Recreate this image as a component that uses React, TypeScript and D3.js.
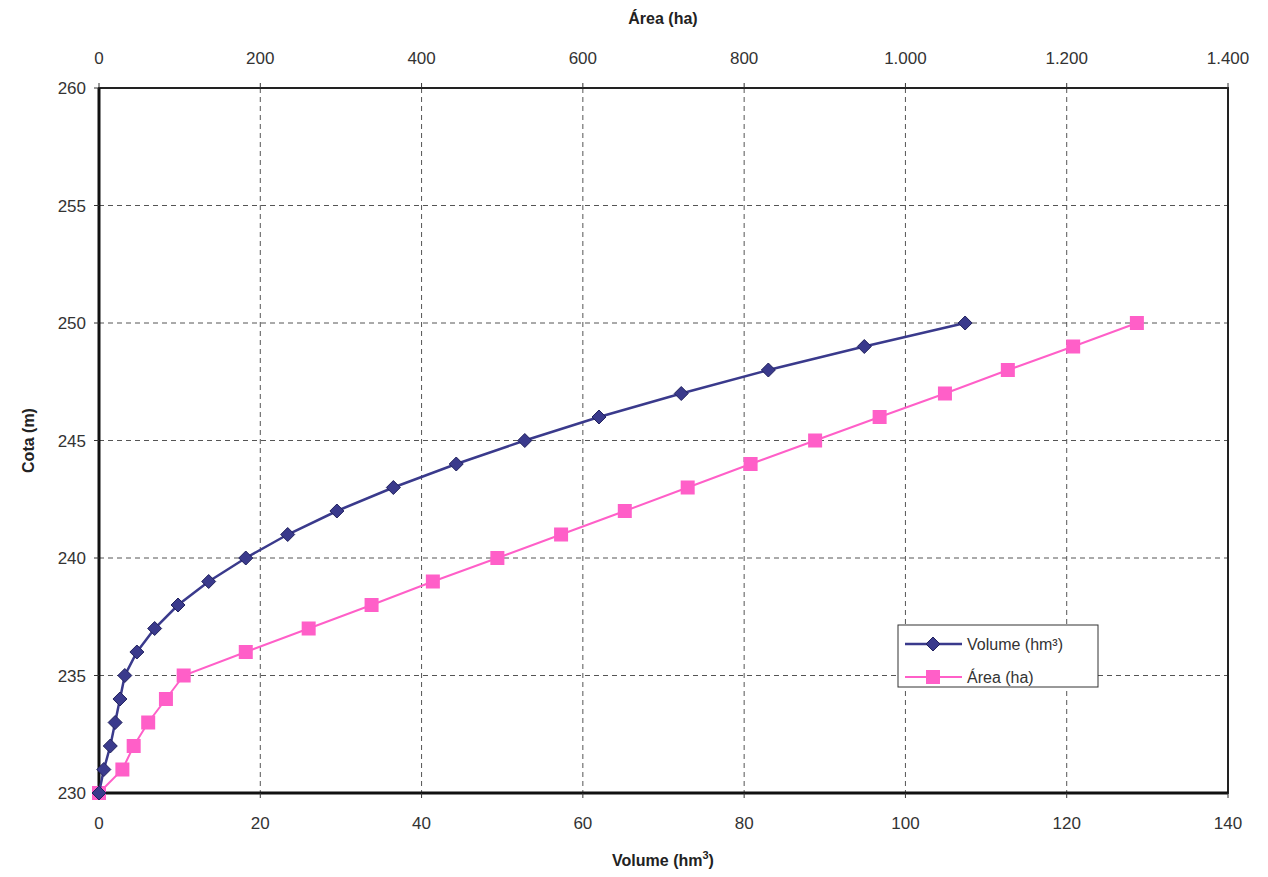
import React from "react";
import * as d3 from "d3";

const cota = [230, 231, 232, 233, 234, 235, 236, 237, 238, 239, 240, 241, 242, 243, 244, 245, 246, 247, 248, 249, 250];
const volume = [0, 0.6, 1.4, 2.0, 2.6, 3.2, 4.7, 6.9, 9.8, 13.6, 18.2, 23.4, 29.5, 36.5, 44.3, 52.8, 62.0, 72.2, 83.0, 94.9, 107.4];
const area = [0, 29, 43, 61, 83, 105, 182, 260, 338, 414, 494, 573, 652, 730, 808, 888, 968, 1049, 1127, 1208, 1287];
const volumeTicks = [0, 20, 40, 60, 80, 100, 120, 140];
const areaTicks = [0, 200, 400, 600, 800, 1000, 1200, 1400];
const cotaTicks = [230, 235, 240, 245, 250, 255, 260];

const W = 1268, H = 877;
const M = { left: 99, right: 1228, top: 88, bottom: 793 };

export default function App() {
  const xV = d3.scaleLinear().domain([0, 140]).range([M.left, M.right]);
  const xA = d3.scaleLinear().domain([0, 1400]).range([M.left, M.right]);
  const y = d3.scaleLinear().domain([230, 260]).range([M.bottom, M.top]);
  const fmtA = (v: number) => d3.format(",")(v).replace(/,/g, ".");

  const volPts = cota.map((c, i) => [xV(volume[i]), y(c)] as [number, number]);
  const areaPts = cota.map((c, i) => [xA(area[i]), y(c)] as [number, number]);
  const line = d3.line();
  const font = "'Liberation Sans', Arial, sans-serif";
  const volColor = "#3a3a8c";
  const areaColor = "#ff5fc8";

  const diamond = (cx: number, cy: number, k: string | number) => (
    <path key={k} d={`M${cx},${cy - 7}L${cx + 7},${cy}L${cx},${cy + 7}L${cx - 7},${cy}Z`} fill={volColor} stroke="#22225e" strokeWidth={1} />
  );
  const square = (cx: number, cy: number, k: string | number) => (
    <rect key={k} x={cx - 7} y={cy - 7} width={14} height={14} fill={areaColor} />
  );

  return (
    <svg width={W} height={H} style={{ position: "absolute", left: 0, top: 0, background: "#fff" }} fontFamily={font}>
      <rect x={0} y={0} width={W} height={H} fill="#fff" />
      {/* gridlines */}
      {volumeTicks.slice(1, -1).map((t) => (
        <line key={"gv" + t} x1={xV(t)} x2={xV(t)} y1={M.top} y2={M.bottom} stroke="#555" strokeWidth={1} strokeDasharray="5,4" />
      ))}
      {cotaTicks.slice(1, -1).map((t) => (
        <line key={"gh" + t} x1={M.left} x2={M.right} y1={y(t)} y2={y(t)} stroke="#555" strokeWidth={1} strokeDasharray="5,4" />
      ))}
      {/* frame */}
      <rect x={M.left} y={M.top} width={M.right - M.left} height={M.bottom - M.top} fill="none" stroke="#222" strokeWidth={2} />
      <line x1={M.left} x2={M.left} y1={M.top} y2={M.bottom} stroke="#111" strokeWidth={3} />
      <line x1={M.left} x2={M.right} y1={M.bottom} y2={M.bottom} stroke="#111" strokeWidth={3} />
      {/* ticks */}
      {volumeTicks.map((t) => (
        <line key={"tb" + t} x1={xV(t)} x2={xV(t)} y1={M.bottom} y2={M.bottom + 5} stroke="#333" />
      ))}
      {areaTicks.map((t) => (
        <line key={"tt" + t} x1={xA(t)} x2={xA(t)} y1={M.top - 5} y2={M.top} stroke="#333" />
      ))}
      {cotaTicks.map((t) => (
        <line key={"tl" + t} x1={M.left - 5} x2={M.left} y1={y(t)} y2={y(t)} stroke="#333" />
      ))}
      {/* tick labels */}
      {volumeTicks.map((t) => (
        <text key={"lb" + t} x={xV(t)} y={829} textAnchor="middle" fontSize={17} fill="#333">{t}</text>
      ))}
      {areaTicks.map((t) => (
        <text key={"lt" + t} x={xA(t)} y={64} textAnchor="middle" fontSize={17} fill="#333">{fmtA(t)}</text>
      ))}
      {cotaTicks.map((t) => (
        <text key={"ll" + t} x={86} y={y(t) + 6} textAnchor="end" fontSize={17} fill="#333">{t}</text>
      ))}
      {/* axis titles */}
      <text x={663} y={24} textAnchor="middle" fontSize={16} fontWeight="bold" fill="#222">Área (ha)</text>
      <text x={663} y={866} textAnchor="middle" fontSize={16} fontWeight="bold" fill="#222">
        Volume (hm<tspan dy={-7} fontSize={11}>3</tspan><tspan dy={7}>)</tspan>
      </text>
      <text transform={`translate(34,${(M.top + M.bottom) / 2}) rotate(-90)`} textAnchor="middle" fontSize={16} fontWeight="bold" fill="#222">Cota (m)</text>
      {/* series */}
      <path d={line(areaPts) || ""} fill="none" stroke={areaColor} strokeWidth={2} />
      {areaPts.map((p, i) => square(p[0], p[1], "a" + i))}
      <path d={line(volPts) || ""} fill="none" stroke={volColor} strokeWidth={2.5} />
      {volPts.map((p, i) => diamond(p[0], p[1], "v" + i))}
      {/* legend */}
      <rect x={898} y={625} width={200} height={62} fill="#fff" stroke="#333" strokeWidth={1} />
      <line x1={905} x2={962} y1={644} y2={644} stroke={volColor} strokeWidth={2.5} />
      {diamond(933, 644, "lv")}
      <text x={967} y={650} fontSize={16} fill="#333">Volume (hm³)</text>
      <line x1={905} x2={962} y1={677} y2={677} stroke={areaColor} strokeWidth={2} />
      {square(933, 677, "la")}
      <text x={967} y={683} fontSize={16} fill="#333">Área (ha)</text>
    </svg>
  );
}
